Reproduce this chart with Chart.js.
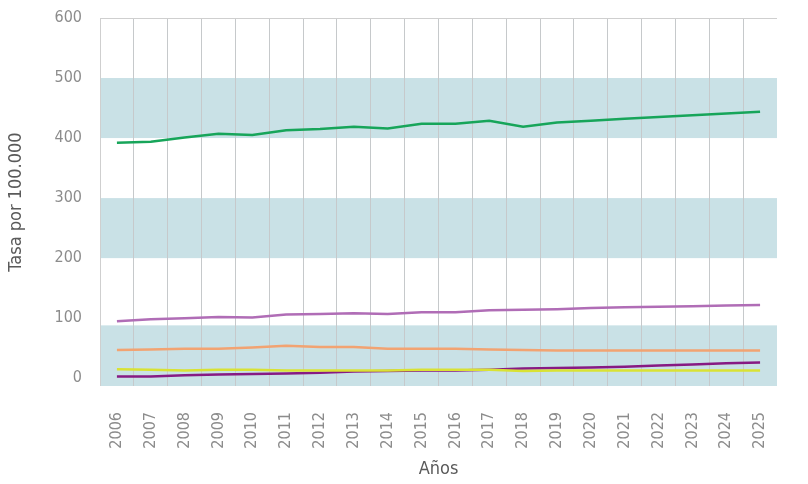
<!DOCTYPE html>
<html>
<head>
<meta charset="utf-8">
<script src="https://cdn.jsdelivr.net/npm/chart.js@4.4.1/dist/chart.umd.min.js"></script>
<style>
  body { margin: 0; background: #fff; }
  #wrap { width: 808px; height: 484px; }
</style>
</head>
<body>
<div id="wrap"><canvas id="tasaChart"></canvas></div>
<script>
// Years on the x axis
const years = ['2006', '2007', '2008', '2009', '2010', '2011', '2012', '2013', '2014', '2015',
               '2016', '2017', '2018', '2019', '2020', '2021', '2022', '2023', '2024', '2025'];

// Rates per 100.000
const greenSeries  = [392, 394, 401, 407, 405, 413, 415, 419, 416, 424, 424, 429, 419, 426, 429, 432, 435, 438, 441, 444];
const pinkSeries   = [95, 98, 100, 102, 101, 106, 107, 108, 107, 110, 110, 113, 114, 115, 117, 118, 119, 120, 121, 122];
const orangeSeries = [47, 48, 49, 49, 51, 54, 52, 52, 49, 49, 49, 48, 47, 46, 46, 46, 46, 46, 46, 46];
const yellowSeries = [15, 14, 13, 14, 14, 13, 13, 13, 13, 14, 14, 14, 12, 13, 13, 13, 13, 13, 13, 13];
const purpleSeries = [3, 3, 5, 6, 7, 8, 9, 11, 12, 13, 13, 14, 16, 17, 18, 19, 21, 23, 25, 26];

// Y axis ticks and the shaded bands behind the lines
const yTicks = [0, 100, 200, 300, 400, 500, 600];
const yMin = -13;
const yMax = 600;
const bandFrom = [400, 200, yMin];
const bandTo   = [500, 300, 88];

const labelFont = "'DejaVu Sans Condensed', 'Liberation Sans Narrow', 'Roboto', sans-serif";

// Light blue bands go under the grid lines
const bandsPlugin = {
    id: 'bands',
    beforeDraw(chart) {
        const { ctx, chartArea, scales } = chart;
        ctx.save();
        ctx.fillStyle = '#c9e1e6';
        for (let i = 0; i < bandFrom.length; i++) {
            const yTop = scales.y.getPixelForValue(bandTo[i]);
            const yBottom = scales.y.getPixelForValue(bandFrom[i]);
            ctx.fillRect(chartArea.left, yTop, chartArea.right - chartArea.left, yBottom - yTop);
        }
        ctx.restore();

        // the original has no vertical line on the right edge
        const x = scales.x;
        if (x._computeGridLineItems) {
            x._gridLineItems = x._computeGridLineItems(chartArea);
            x._gridLineItems.pop();
        }
    }
};

function line(data, color) {
    return {
        data: data,
        borderColor: color,
        backgroundColor: color,
        borderWidth: 2.5,
        pointRadius: 0,
        tension: 0,
        fill: false
    };
}

const ctx = document.getElementById('tasaChart').getContext('2d');
new Chart(ctx, {
    type: 'line',
    data: {
        labels: years,
        datasets: [
            line(greenSeries, '#17a55a'),
            line(pinkSeries, '#b06db6'),
            line(orangeSeries, '#f2a372'),
            line(yellowSeries, '#d9e234'),
            line(purpleSeries, '#871a83')
        ]
    },
    options: {
        responsive: true,
        maintainAspectRatio: false,
        animation: false,
        layout: {
            padding: { top: 18, right: 31, bottom: 0, left: 0 }
        },
        plugins: {
            legend: { display: false },
            tooltip: { enabled: false }
        },
        scales: {
            x: {
                offset: true,
                afterFit(scale) {
                    scale.height = 98;
                    scale.paddingLeft = 0;
                    scale.paddingRight = 0;
                },
                grid: {
                    offset: true,
                    drawTicks: false,
                    color: '#c6c9cb',
                    lineWidth: 1
                },
                border: { display: false },
                ticks: {
                    minRotation: 90,
                    maxRotation: 90,
                    padding: 26,
                    color: '#8c8c8c',
                    font: { family: labelFont, size: 16 }
                },
                title: {
                    display: true,
                    text: 'Años',
                    color: '#5a5a5a',
                    font: { family: labelFont, size: 18 },
                    padding: { top: 0, bottom: 4 }
                }
            },
            y: {
                min: yMin,
                max: yMax,
                afterFit(scale) {
                    scale.width = 100;
                    scale.paddingTop = 0;
                    scale.paddingBottom = 0;
                },
                afterBuildTicks(scale) {
                    scale.ticks = yTicks.map(v => ({ value: v }));
                },
                grid: {
                    drawTicks: false,
                    color: '#cfcfcf',
                    lineWidth: c => (c.tick && c.tick.value === yMax) ? 1 : 0
                },
                border: { display: true, color: '#cfcfcf' },
                ticks: {
                    padding: 18,
                    color: '#8c8c8c',
                    font: { family: labelFont, size: 16 }
                },
                title: {
                    display: true,
                    text: 'Tasa por 100.000',
                    color: '#5a5a5a',
                    font: { family: labelFont, size: 18 },
                    padding: { top: 6, bottom: 0 }
                }
            }
        }
    },
    plugins: [bandsPlugin]
});
</script>
</body>
</html>
